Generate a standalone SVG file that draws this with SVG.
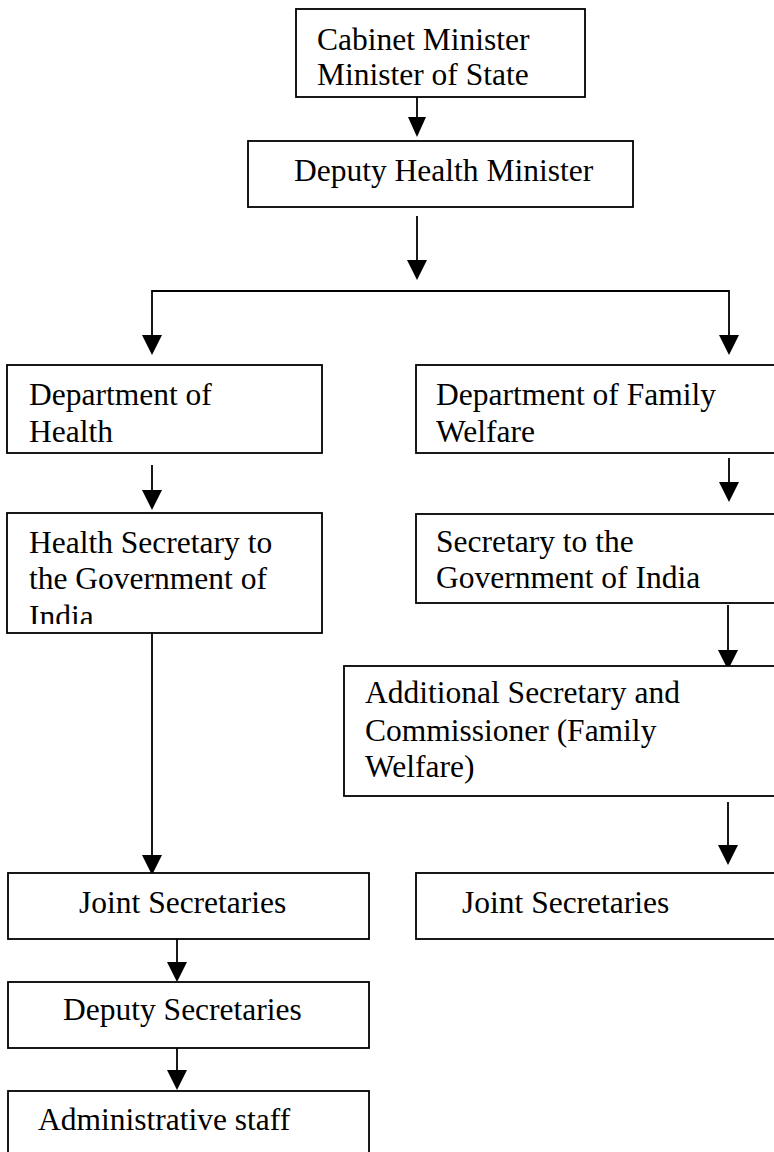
<svg xmlns="http://www.w3.org/2000/svg" width="774" height="1152" viewBox="0 0 774 1152">
<style>
.box{fill:#fff;stroke:#000;stroke-width:1.8}
.t{font-family:"Liberation Serif","Times New Roman",serif;font-size:31.5px;fill:#000}
.ln{fill:none;stroke:#000;stroke-width:1.8}
.ah{fill:#000}
</style>
<defs>
<clipPath id="clipHS"><rect x="7" y="513" width="315" height="111"/></clipPath>
</defs>
<g id="connectors">
<line class="ln" x1="417" y1="97" x2="417" y2="120"/><polygon class="ah" points="408,117 426,117 417,137"/>
<line class="ln" x1="417" y1="216" x2="417" y2="262"/><polygon class="ah" points="407,260 427,260 417,280"/>
<polyline class="ln" points="152,337 152,291 729,291 729,337"/>
<polygon class="ah" points="142,335 162,335 152,355"/>
<polygon class="ah" points="719,335 739,335 729,355"/>
<line class="ln" x1="152" y1="465" x2="152" y2="492"/><polygon class="ah" points="142,490 162,490 152,510"/>
<line class="ln" x1="729" y1="458" x2="729" y2="484"/><polygon class="ah" points="719,482 739,482 729,502"/>
<line class="ln" x1="728" y1="605" x2="728" y2="652"/><polygon class="ah" points="718,650 738,650 728,670"/>
<line class="ln" x1="728" y1="802" x2="728" y2="847"/><polygon class="ah" points="718,845 738,845 728,865"/>
<line class="ln" x1="152" y1="633" x2="152" y2="857"/><polygon class="ah" points="142,855 162,855 152,875"/>
<line class="ln" x1="177" y1="939" x2="177" y2="964"/><polygon class="ah" points="167,962 187,962 177,982"/>
<line class="ln" x1="177" y1="1048" x2="177" y2="1072"/><polygon class="ah" points="167,1070 187,1070 177,1090"/>
</g>
<g id="n-cabinet"><rect class="box" x="296" y="9" width="289" height="88"/>
<text class="t" x="317" y="50">Cabinet Minister</text><text class="t" x="317" y="85">Minister of State</text></g>
<g id="n-deputy-health"><rect class="box" x="248" y="141" width="385" height="66"/>
<text class="t" x="294" y="181">Deputy Health Minister</text></g>
<g id="n-dept-health"><rect class="box" x="7" y="365" width="315" height="88"/>
<text class="t" x="29" y="405">Department of</text><text class="t" x="29" y="442">Health</text></g>
<g id="n-dept-fw"><rect class="box" x="416" y="365" width="370" height="88"/>
<text class="t" x="436" y="405">Department of Family</text><text class="t" x="436" y="442">Welfare</text></g>
<g id="n-health-sec"><rect class="box" x="7" y="513" width="315" height="120"/>
<g clip-path="url(#clipHS)"><text class="t" x="29" y="553">Health Secretary to</text><text class="t" x="29" y="589">the Government of</text><text class="t" x="29" y="627">India</text></g></g>
<g id="n-sec-goi"><rect class="box" x="416" y="514" width="370" height="89"/>
<text class="t" x="436" y="552">Secretary to the</text><text class="t" x="436" y="588">Government of India</text></g>
<g id="n-add-sec"><rect class="box" x="344" y="666" width="440" height="130"/>
<text class="t" x="365" y="703">Additional Secretary and</text><text class="t" x="365" y="741">Commissioner (Family</text><text class="t" x="365" y="777">Welfare)</text></g>
<g id="n-joint-left"><rect class="box" x="8" y="873" width="361" height="66"/>
<text class="t" x="79" y="913">Joint Secretaries</text></g>
<g id="n-joint-right"><rect class="box" x="416" y="873" width="370" height="66"/>
<text class="t" x="462" y="913">Joint Secretaries</text></g>
<g id="n-deputy-sec"><rect class="box" x="8" y="982" width="361" height="66"/>
<text class="t" x="63" y="1020">Deputy Secretaries</text></g>
<g id="n-admin"><rect class="box" x="8" y="1091" width="361" height="80"/>
<text class="t" x="38" y="1130">Administrative staff</text></g>
</svg>
